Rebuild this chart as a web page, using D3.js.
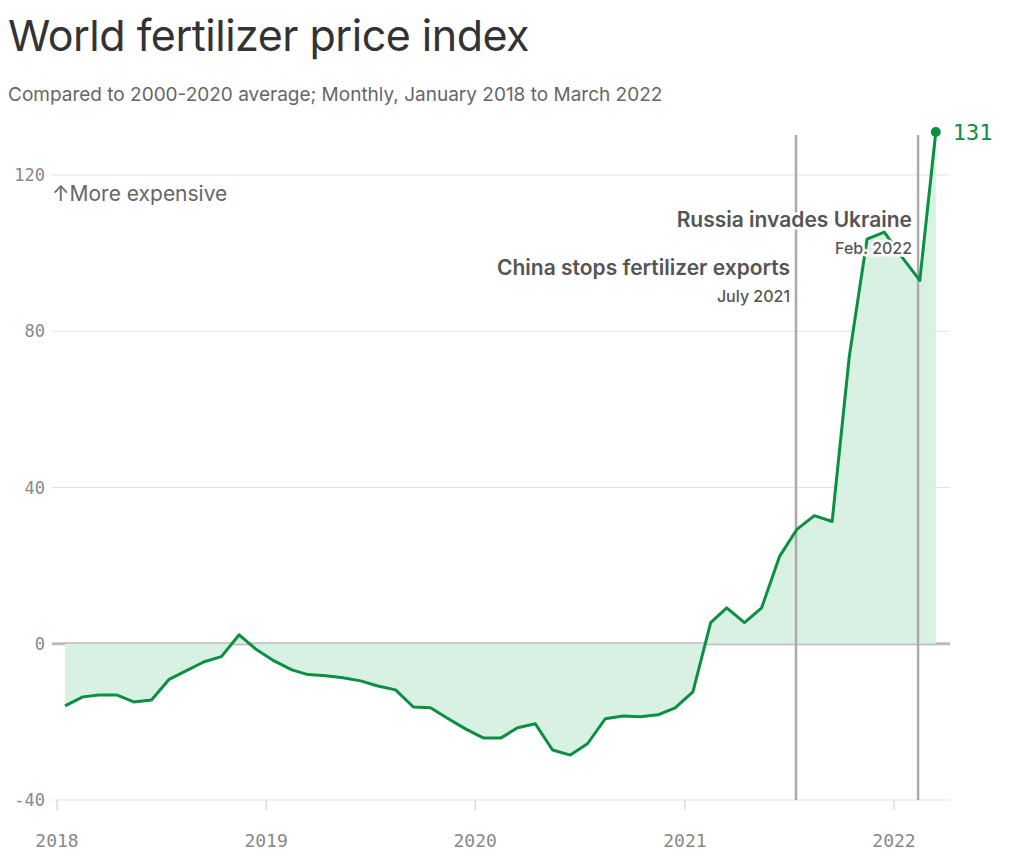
<!DOCTYPE html>
<html><head><meta charset="utf-8">
<script src="https://cdn.jsdelivr.net/npm/d3@7"></script>
<style>
body{margin:0;background:#fff;font-family:"Inter","Noto Sans",sans-serif;}
</style></head>
<body><svg id="chart" width="1024" height="856"></svg>
<script>
// monthly index values, Jan 2018 .. Mar 2022
var startYear = 2018;
var values = [
  -15.9, -13.6, -13.1, -13.1, -14.9, -14.4, -9.2, -6.9, -4.6, -3.3, 2.3, -1.5,
  -4.4, -6.7, -7.9, -8.2, -8.7, -9.5, -10.8, -11.8, -16.2, -16.4, -19.2, -21.8,
  -24.1, -24.1, -21.5, -20.5, -27.2, -28.5, -25.6, -19.2, -18.5, -18.7, -18.2, -16.4,
  -12.3, 5.4, 9.2, 5.4, 9.2, 22.3, 29.2, 32.8, 31.3, 73.6, 103.6, 105.4,
  99, 93, 131
];
var yTicks = [-40, 0, 40, 80, 120];
var xTicks = [2018, 2019, 2020, 2021, 2022];
var events = [
  {date: new Date(2021, 6, 14), title: 'China stops fertilizer exports', sub: 'July 2021', ty: 275},
  {date: new Date(2022, 1, 12), title: 'Russia invades Ukraine', sub: 'Feb. 2022', ty: 227}
];

var data = values.map(function(v, i) {
  return {date: new Date(startYear, i, 15), value: v};
});

var svg = d3.select('#chart');
var green = '#0b8f42', grey = '#555';
var mono = '"DejaVu Sans Mono","Liberation Mono",monospace';

var x = d3.scaleTime().domain([new Date(2018, 0, 1), new Date(2022, 0, 1)]).range([57, 894]);
var y = d3.scaleLinear().domain([-40, 120]).range([800, 175]);

svg.append('text').attr('x', 8).attr('y', 51).attr('font-size', 43).attr('fill', '#333')
  .attr('letter-spacing', -0.5).text('World fertilizer price index');
svg.append('text').attr('x', 8).attr('y', 101).attr('font-size', 19).attr('fill', '#666')
  .text('Compared to 2000-2020 average; Monthly, January 2018 to March 2022');

// gridlines
svg.append('g').selectAll('line').data(yTicks).join('line')
  .attr('x1', 52).attr('x2', 950)
  .attr('y1', function(d) { return y(d); }).attr('y2', function(d) { return y(d); })
  .attr('stroke', function(d) { return d === 0 ? '#bbb' : '#e3e3e3'; })
  .attr('stroke-width', function(d) { return d === 0 ? 3 : 1.2; });

svg.append('g').selectAll('text').data(yTicks).join('text')
  .attr('x', 45).attr('y', function(d) { return y(d) + 6; })
  .attr('text-anchor', 'end').attr('font-family', mono).attr('font-size', 17).attr('fill', '#888')
  .text(function(d) { return d; });

svg.append('text').attr('x', 52).attr('y', 201).attr('font-size', 21).attr('fill', '#666')
  .text('\u2191More expensive');

// x axis
var xg = svg.append('g');
xg.selectAll('line').data(xTicks).join('line')
  .attr('x1', function(d) { return x(new Date(d, 0, 1)); })
  .attr('x2', function(d) { return x(new Date(d, 0, 1)); })
  .attr('y1', 800).attr('y2', 810).attr('stroke', '#ccc');
xg.selectAll('text').data(xTicks).join('text')
  .attr('x', function(d) { return x(new Date(d, 0, 1)); }).attr('y', 847)
  .attr('text-anchor', 'middle').attr('font-family', mono).attr('font-size', 18).attr('fill', '#888')
  .text(function(d) { return d; });

// area + line
svg.append('path').datum(data)
  .attr('d', d3.area().x(function(d) { return x(d.date); }).y0(y(0)).y1(function(d) { return y(d.value); }))
  .attr('fill', '#d9f1e3');

// event lines
svg.append('g').selectAll('line').data(events).join('line')
  .attr('x1', function(d) { return x(d.date); }).attr('x2', function(d) { return x(d.date); })
  .attr('y1', 135).attr('y2', 800).attr('stroke', '#aaa').attr('stroke-width', 2.5);

svg.append('path').datum(data)
  .attr('d', d3.line().x(function(d) { return x(d.date); }).y(function(d) { return y(d.value); }))
  .attr('fill', 'none').attr('stroke', green).attr('stroke-width', 3).attr('stroke-linejoin', 'round');

// event labels with white halo
var ev = svg.append('g').selectAll('g').data(events).join('g');
ev.append('text').attr('x', function(d) { return x(d.date) - 6; }).attr('y', function(d) { return d.ty; })
  .attr('text-anchor', 'end').attr('font-size', 21).attr('font-weight', 600).attr('fill', grey)
  .attr('stroke', '#fff').attr('stroke-width', 5).attr('paint-order', 'stroke')
  .text(function(d) { return d.title; });
ev.append('text').attr('x', function(d) { return x(d.date) - 6; }).attr('y', function(d) { return d.ty + 27; })
  .attr('text-anchor', 'end').attr('font-size', 16).attr('font-weight', 500).attr('fill', grey)
  .attr('stroke', '#fff').attr('stroke-width', 5).attr('paint-order', 'stroke')
  .text(function(d) { return d.sub; });

// last point
var last = data[data.length - 1];
svg.append('circle').attr('cx', x(last.date)).attr('cy', y(last.value)).attr('r', 5).attr('fill', green);
svg.append('text').attr('x', x(last.date) + 17).attr('y', y(last.value) + 8)
  .attr('font-family', mono).attr('font-size', 22).attr('fill', green).text(Math.round(last.value));
</script></body></html>
